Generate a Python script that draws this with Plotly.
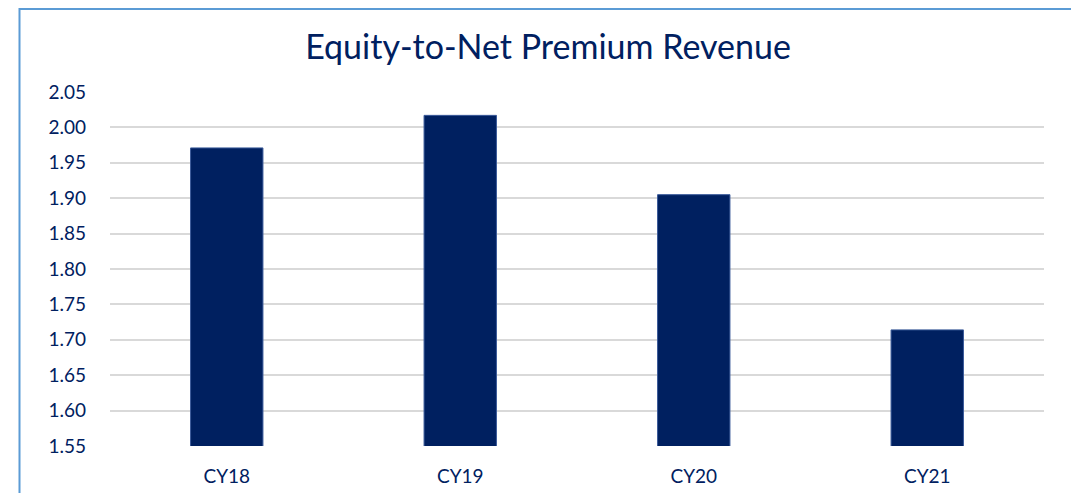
import plotly.graph_objects as go

categories = ["CY18", "CY19", "CY20", "CY21"]
values = [1.971, 2.017, 1.905, 1.714]
y_ticks = [1.55, 1.60, 1.65, 1.70, 1.75, 1.80, 1.85, 1.90, 1.95, 2.00, 2.05]
title_text = "Equity-to-Net Premium Revenue"

# page body has an 8px margin, so figure coords = screen coords - 8
OFF = 8
W, H = 1079, 493
L = 110 - OFF
T = 92 - OFF
plot_right = 1044 - OFF
plot_bottom = 446 - OFF
R = W - plot_right
B = H - plot_bottom
pw, ph = plot_right - L, plot_bottom - T

navy = "#002060"
font_family = "Lato, 'Open Sans', sans-serif"

fig = go.Figure()
fig.add_trace(go.Bar(
    x=categories, y=values,
    marker=dict(color=navy, line=dict(color="#3A5A99", width=1)),
    width=0.31,
))

fig.update_layout(
    width=W, height=H,
    margin=dict(l=L, r=R, t=T, b=B, autoexpand=False),
    paper_bgcolor="white", plot_bgcolor="white",
    showlegend=False,
    font=dict(family=font_family, color=navy),
    title=dict(text=title_text, x=(548 - OFF) / W, xanchor="center", xref="container",
               y=1 - (47 - OFF) / H, yanchor="middle", yref="container",
               font=dict(size=34, color=navy, family=font_family)),
)
fig.update_xaxes(
    showgrid=False, showline=False, zeroline=False, ticks="",
    tickfont=dict(size=19, color=navy), ticklabelstandoff=17,
)
fig.update_yaxes(
    range=[1.55, 2.05], tickvals=y_ticks, tickformat=".2f",
    showgrid=True, gridcolor="#D9D9D9", gridwidth=1.5,
    zeroline=False, showline=False, ticks="",
    tickfont=dict(size=19, color=navy), ticklabelstandoff=23,
)

# outer chart border
x0 = (19.5 - OFF - L) / pw
x1 = (1076.5 - OFF - L) / pw
y1 = (plot_bottom - 1) / ph
fig.add_shape(type="rect", xref="paper", yref="paper",
              x0=x0, x1=x1, y0=-0.5, y1=y1,
              line=dict(color="#5B9BD5", width=2), fillcolor="rgba(0,0,0,0)",
              layer="above")

fig.write_html("out.html")
